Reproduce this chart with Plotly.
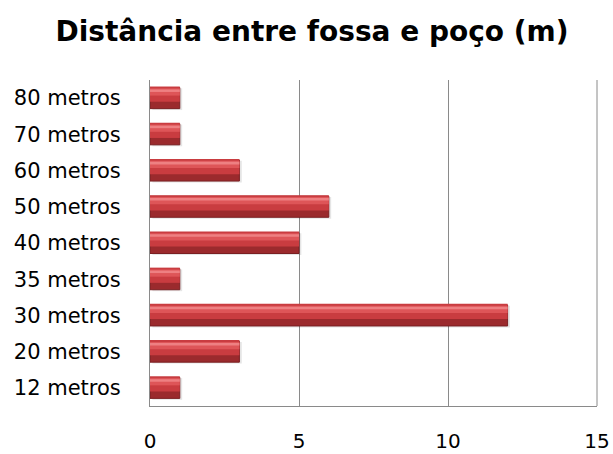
import plotly.graph_objects as go

categories = ["12 metros", "20 metros", "30 metros", "35 metros", "40 metros",
              "50 metros", "60 metros", "70 metros", "80 metros"]
values = [1, 3, 12, 1, 5, 6, 3, 1, 1]
x_ticks = [0, 5, 10, 15]

fig = go.Figure()
# shadow
fig.add_trace(go.Bar(y=categories, x=values, orientation="h", width=0.6, offset=-0.33,
                     marker=dict(color="rgba(0,0,0,0.10)", line=dict(width=0)),
                     base=0.08, hoverinfo="skip"))
# base (dark)
fig.add_trace(go.Bar(y=categories, x=values, orientation="h", width=0.58, offset=-0.29,
                     marker=dict(color="#9b2a2d", line=dict(color="#7a1f22", width=1))))
# middle
fig.add_trace(go.Bar(y=categories, x=values, orientation="h", width=0.42, offset=-0.1,
                     marker=dict(color="#c93c40", line=dict(width=0)), hoverinfo="skip"))
# upper
fig.add_trace(go.Bar(y=categories, x=values, orientation="h", width=0.2, offset=0.07,
                     marker=dict(color="#de5558", line=dict(width=0)), hoverinfo="skip"))
# highlight
fig.add_trace(go.Bar(y=categories, x=values, orientation="h", width=0.07, offset=0.17,
                     marker=dict(color="#ee8082", line=dict(width=0)), hoverinfo="skip"))

# gridline at the right end of the axis (x = 15, the right edge of the plot area)
fig.add_shape(type="line", xref="paper", yref="paper", x0=1, x1=1,
              y0=0, y1=1, line=dict(color="#8a8a8a", width=1), layer="below")

fig.update_layout(
    width=613, height=454,
    barmode="overlay",
    showlegend=False,
    paper_bgcolor="white", plot_bgcolor="white",
    margin=dict(l=150, r=16, t=80, b=48),
    title=dict(text="<b>Distância entre fossa e poço (m)</b>", x=312 / 613, xanchor="center",
               y=1 - 31 / 454, yref="container", yanchor="middle",
               font=dict(family="DejaVu Sans", size=28, color="black")),
    font=dict(family="DejaVu Sans", color="black"),
)
fig.update_xaxes(range=[0, 15], tickvals=x_ticks, showgrid=True, gridcolor="#8a8a8a",
                 gridwidth=1, showline=True, linecolor="#8a8a8a", linewidth=1,
                 ticks="", tickfont=dict(size=20), ticklabelstandoff=17, zeroline=False,
                 automargin=False)
fig.update_yaxes(categoryorder="array", categoryarray=categories, showgrid=False,
                 showline=True, linecolor="#8a8a8a", linewidth=1, ticks="",
                 tickfont=dict(size=21), ticklabelstandoff=24, range=[-0.5, 8.5],
                 automargin=False)

fig.write_html("out.html")
